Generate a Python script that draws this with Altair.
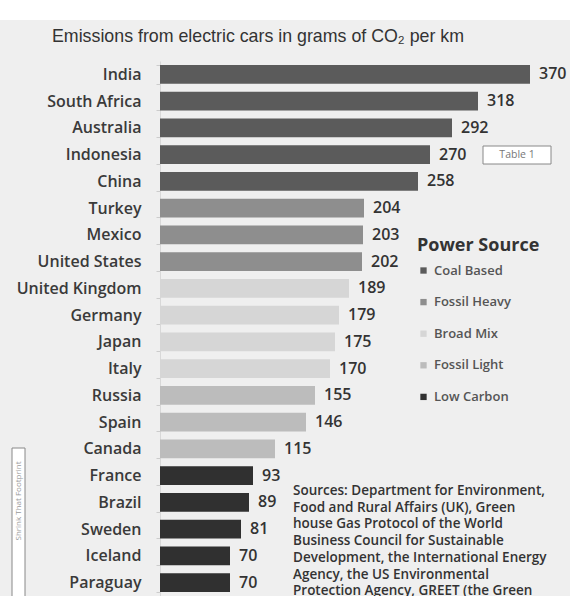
import altair as alt
import pandas as pd

countries = ["India", "South Africa", "Australia", "Indonesia", "China", "Turkey", "Mexico",
             "United States", "United Kingdom", "Germany", "Japan", "Italy", "Russia", "Spain",
             "Canada", "France", "Brazil", "Sweden", "Iceland", "Paraguay"]
values = [370, 318, 292, 270, 258, 204, 203, 202, 189, 179, 175, 170, 155, 146, 115, 93, 89, 81, 70, 70]
power = (["Coal Based"] * 5 + ["Fossil Heavy"] * 3 + ["Broad Mix"] * 4 +
         ["Fossil Light"] * 3 + ["Low Carbon"] * 5)
source_order = ["Coal Based", "Fossil Heavy", "Broad Mix", "Fossil Light", "Low Carbon"]
source_colors = ["#5b5b5b", "#8e8e8e", "#d6d6d6", "#bcbcbc", "#303030"]

title_text = "Emissions from electric cars in grams of CO\u2082 per km"
sources_text = ("Sources: Department for Environment,\nFood and Rural Affairs (UK),  Green\n"
                "house Gas Protocol of the World\nBusiness Council for Sustainable\n"
                "Development,  the International Energy\nAgency, the US Environmental\n"
                "Protection Agency, GREET (the Green")

df = pd.DataFrame({"Country": countries, "Value": values, "Power Source": power})

FONT = "Open Sans"

y_enc = alt.Y("Country:N", sort=countries, title=None,
              scale=alt.Scale(paddingInner=0.3, paddingOuter=0.15),
              axis=alt.Axis(labelFontSize=16, labelColor="#3a3a3a", labelFont=FONT,
                            labelFontWeight=600,
                            labelPadding=15, tickSize=4, tickColor="#cccccc",
                            domainColor="#d8d8d8", tickBand="extent"))
x_enc = alt.X("Value:Q", title=None, scale=alt.Scale(domain=[0, 410]), axis=None)

bars = alt.Chart(df).mark_bar().encode(
    x=x_enc, y=y_enc,
    color=alt.Color("Power Source:N",
                    scale=alt.Scale(domain=source_order, range=source_colors),
                    legend=alt.Legend(orient="none", legendX=257, legendY=176,
                                      title="Power Source", titleFontSize=18,
                                      titleFont=FONT, titleColor="#333333",
                                      titleFontWeight="bold", titlePadding=9,
                                      symbolType="square", symbolSize=40,
                                      symbolStrokeWidth=0,
                                      labelFontSize=13, labelFont=FONT,
                                      labelFontWeight=600,
                                      labelColor="#555555", rowPadding=17.6,
                                      labelOffset=4)),
)

labels = alt.Chart(df).mark_text(align="left", baseline="middle", dx=9, fontSize=16,
                                 font=FONT, fontWeight=600, color="#333333").encode(
    x=x_enc, y=alt.Y("Country:N", sort=countries), text="Value:Q")

one = alt.Data(values=[{}])

top_strip = alt.Chart(one).mark_rect(color="white").encode(
    x=alt.value(-160), x2=alt.value(410), y=alt.value(-61), y2=alt.value(-41))

title = alt.Chart(one).mark_text(fontSize=17.8, font="Liberation Sans", color="#333333",
                                 align="center", baseline="middle").encode(
    x=alt.value(98), y=alt.value(-24), text=alt.value(title_text))

table_box = alt.Chart(one).mark_rect(fill="white", stroke="#888888", strokeWidth=1).encode(
    x=alt.value(323), x2=alt.value(391), y=alt.value(85), y2=alt.value(103))
table_text = alt.Chart(one).mark_text(fontSize=10.5, font=FONT, color="#777777",
                                      align="center", baseline="middle").encode(
    x=alt.value(357), y=alt.value(94), text=alt.value("Table 1"))

src = alt.Chart(one).mark_text(fontSize=13.5, font=FONT, fontWeight=600, color="#333333",
                               align="left", baseline="middle", lineBreak="\n",
                               lineHeight=16.7).encode(
    x=alt.value(133), y=alt.value(430), text=alt.value(sources_text))

side_box = alt.Chart(one).mark_rect(fill="white", stroke="#888888", strokeWidth=1).encode(
    x=alt.value(-148), x2=alt.value(-135), y=alt.value(387), y2=alt.value(560))
side_text = alt.Chart(one).mark_text(fontSize=8, font=FONT, color="#999999", angle=270,
                                     align="center", baseline="middle").encode(
    x=alt.value(-141.5), y=alt.value(440), text=alt.value("Shrink That Footprint"))

chart = alt.layer(top_strip, title, bars, labels, table_box, table_text, src,
                  side_box, side_text).properties(
    width=410, height=535,
    autosize=alt.AutoSizeParams(type="none"),
    padding={"left": 160, "top": 61, "right": 0, "bottom": 0},
    background="#efefef",
).configure_view(stroke=None)

chart.save("out.html", embed_options={"renderer": "svg", "actions": False})
